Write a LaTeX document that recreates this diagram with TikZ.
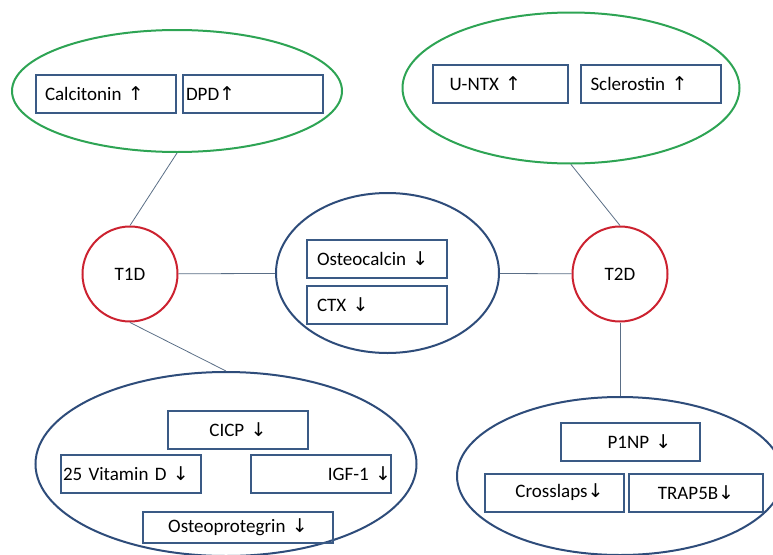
\documentclass[tikz,border=0pt]{standalone}
\usepackage{fontspec}
\setmainfont{Carlito}
\newfontfamily\arrfont{DejaVu Sans}
\usetikzlibrary{shapes.geometric, positioning}
\newcommand{\upar}{{\arrfont\char"2191}}
\newcommand{\dnar}{{\arrfont\char"2193}}
\definecolor{boxblue}{HTML}{3A5A85}
\definecolor{ringblue}{HTML}{2E4C7A}
\definecolor{ringgreen}{HTML}{2EA454}
\definecolor{diseasered}{HTML}{CC2230}
\definecolor{linkgray}{HTML}{5A6E86}

\begin{document}
\begin{tikzpicture}[x=1pt, y=-1pt, font=\fontsize{19}{22}\selectfont,
    group/.style={ellipse, draw=ringblue, line width=2pt, inner sep=0pt},
    marker/.style={rectangle, draw=boxblue, line width=2pt, minimum height=38pt,
        inner ysep=0pt, inner xsep=0pt, text width=140pt, align=left},
    disease/.style={circle, draw=diseasered, line width=2pt, minimum size=95pt, inner sep=0pt},
    link/.style={draw=linkgray, line width=0.8pt}]
    \useasboundingbox (0,0) rectangle (773,554);

    % groups of markers
    \node[group, draw=ringgreen, minimum width=330pt, minimum height=122pt](g1) at (177,91){};
    \node[group, draw=ringgreen, minimum width=337pt, minimum height=151pt](g2) at (571,88){};
    \node[group, minimum width=223pt, minimum height=160pt](g0) at (387.5,273){};
    \node[group, minimum width=381pt, minimum height=184pt](g3) at (226,464){};
    \node[group, minimum width=326pt, minimum height=158pt](g4) at (620,476){};

    % diseases
    \node[disease](t1) at (130,274){T1D};
    \node[disease](t2) at (620,274){T2D};

    % markers
    \node[marker](calc) at (106,94){\hspace*{9pt}Calcitonin \upar};
    \node[marker, right=5pt of calc](dpd){\hspace*{3pt}DPD\upar};
    \node[marker, text width=135pt](untx) at (500,83.5){\hspace*{17pt}U-NTX \upar};
    \node[marker, right=11pt of untx](scl){\hspace*{10pt}Sclerostin \upar};
    \node[marker](osc) at (377,259){\hspace*{10pt}Osteocalcin \dnar};
    \node[marker, below=6pt of osc](ctx){\hspace*{10pt}CTX \dnar};
    \node[marker, align=center](cicp) at (238,430){CICP \dnar};
    \node[marker](vitd) at (131,474){\hspace*{2pt}25 Vitamin D \dnar};
    \node[marker, align=right](igf) at (321,474){IGF-1 \dnar\hspace*{18pt}};
    \node[marker, align=center, text width=190pt, minimum height=31pt](opg) at (238,527.5){Osteoprotegrin \dnar};
    \node[marker, align=center, text width=139pt](p1np) at (630.5,442){\hspace*{18pt}P1NP \dnar};
    \node[marker, align=center, text width=139pt](cross) at (554.5,492.5){\hspace*{10pt}Crosslaps\dnar};
    \node[marker, align=center, text width=134pt](trap) at (696,492.5){TRAP5B\dnar};

    % links
    \draw[link] (g1.south) -- (t1.north);
    \draw[link] (t1) -- (g0);
    \draw[link] (t1.south) -- (g3.north);
    \draw[link] (g2.south) -- (t2.north);
    \draw[link] (g0) -- (t2);
    \draw[link] (t2.south) -- (g4.north);
\end{tikzpicture}
\end{document}
